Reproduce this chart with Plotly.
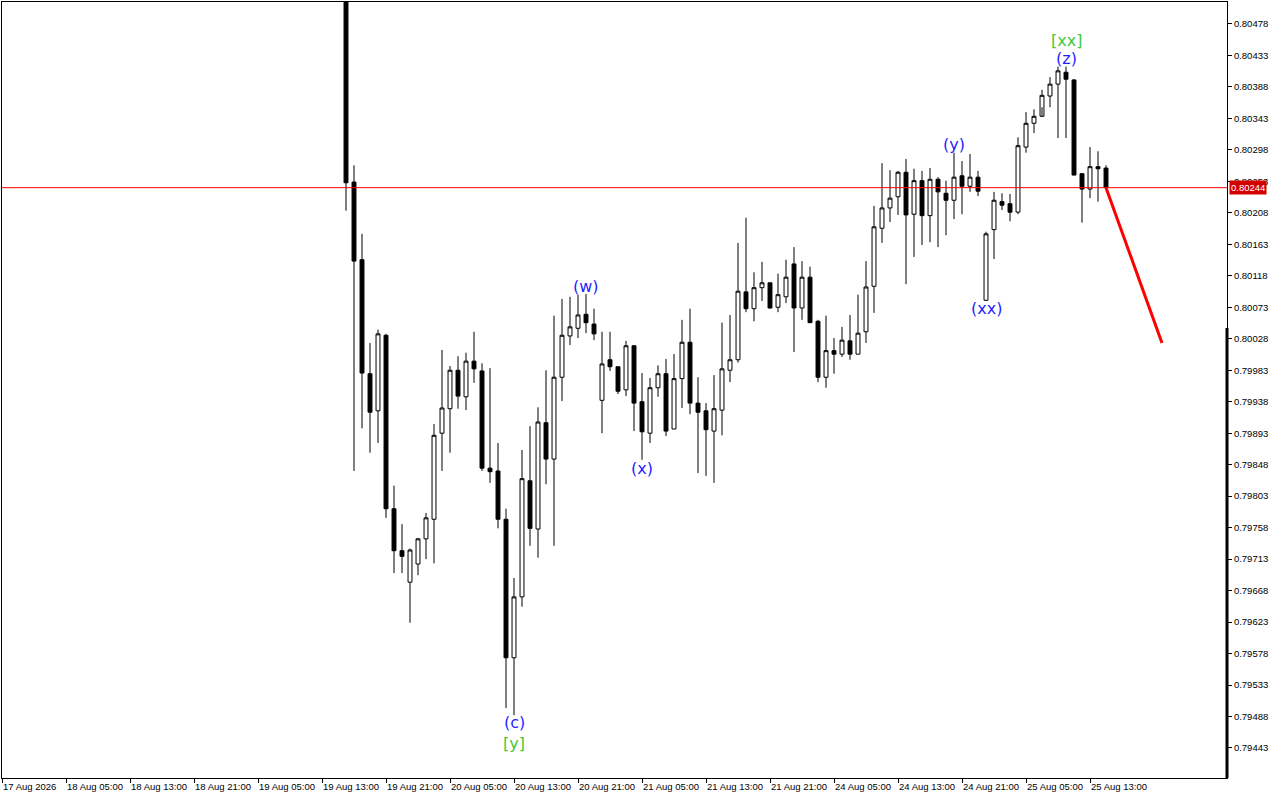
import pandas as pd
import plotly.graph_objects as go

# ---------------- data ----------------
opens = [0.80700, 0.80252, 0.80141, 0.79978, 0.79925, 0.80033, 0.79785, 0.79725, 0.79680, 0.79706,
         0.79742, 0.79770, 0.79893, 0.79928, 0.79983, 0.79945, 0.79996, 0.79982, 0.79843, 0.79839,
         0.79770, 0.79572, 0.79659, 0.79825, 0.79756, 0.79908, 0.79856, 0.79973, 0.80032, 0.80043,
         0.80063, 0.80049, 0.79940, 0.79998, 0.79988, 0.79955, 0.80018, 0.79938, 0.79893, 0.79958,
         0.79978, 0.79899, 0.79971, 0.80023, 0.79936, 0.79925, 0.79896, 0.79926, 0.79983, 0.79998,
         0.80095, 0.80071, 0.80101, 0.80108, 0.80073, 0.80088, 0.80135, 0.80072, 0.80116, 0.80053,
         0.79973, 0.80011, 0.80006, 0.80025, 0.80006, 0.80038, 0.80103, 0.80186, 0.80215, 0.80231,
         0.80266, 0.80206, 0.80254, 0.80204, 0.80256, 0.80236, 0.80226, 0.80261, 0.80246, 0.80259,
         0.80083, 0.80184, 0.80224, 0.80221, 0.80209, 0.80302, 0.80336, 0.80346, 0.80375, 0.80392,
         0.80409, 0.80398, 0.80264, 0.80242, 0.80274, 0.80272]
highs = [0.80720, 0.80276, 0.80178, 0.80022, 0.80041, 0.80035, 0.79818, 0.79763, 0.79728, 0.79743,
         0.79779, 0.79906, 0.80012, 0.79989, 0.80003, 0.80008, 0.80038, 0.79993, 0.79986, 0.79879,
         0.79785, 0.79686, 0.79869, 0.79903, 0.79930, 0.79983, 0.80061, 0.80085, 0.80088, 0.80091,
         0.80092, 0.80071, 0.80038, 0.80038, 0.79988, 0.80025, 0.80018, 0.79979, 0.79972, 0.79990,
         0.79999, 0.80006, 0.80055, 0.80071, 0.79973, 0.79936, 0.79976, 0.80051, 0.80062, 0.80165,
         0.80201, 0.80123, 0.80138, 0.80108, 0.80121, 0.80141, 0.80159, 0.80139, 0.80131, 0.80055,
         0.80061, 0.80029, 0.80045, 0.80062, 0.80091, 0.80139, 0.80218, 0.80279, 0.80269, 0.80268,
         0.80285, 0.80271, 0.80268, 0.80272, 0.80259, 0.80254, 0.80294, 0.80282, 0.80292, 0.80268,
         0.80181, 0.80238, 0.80236, 0.80235, 0.80316, 0.80352, 0.80356, 0.80384, 0.80402, 0.80417,
         0.80417, 0.80399, 0.80264, 0.80302, 0.80296, 0.80276]
lows = [0.80211, 0.79839, 0.79900, 0.79865, 0.79879, 0.79772, 0.79693, 0.79693, 0.79622, 0.79690,
        0.79713, 0.79707, 0.79839, 0.79865, 0.79928, 0.79926, 0.79965, 0.79839, 0.79822, 0.79757,
        0.79500, 0.79490, 0.79645, 0.79732, 0.79715, 0.79820, 0.79732, 0.79939, 0.80019, 0.80029,
        0.80036, 0.80026, 0.79893, 0.79982, 0.79949, 0.79946, 0.79896, 0.79855, 0.79879, 0.79945,
        0.79889, 0.79899, 0.79929, 0.79920, 0.79836, 0.79832, 0.79822, 0.79890, 0.79966, 0.79994,
        0.80066, 0.80053, 0.80082, 0.80071, 0.80066, 0.80079, 0.80009, 0.80055, 0.80051, 0.79966,
        0.79958, 0.79978, 0.80002, 0.79998, 0.80006, 0.80022, 0.80065, 0.80165, 0.80195, 0.80205,
        0.80106, 0.80145, 0.80162, 0.80166, 0.80159, 0.80176, 0.80199, 0.80206, 0.80238, 0.80232,
        0.80082, 0.80142, 0.80212, 0.80196, 0.80206, 0.80294, 0.80322, 0.80359, 0.80359, 0.80315,
        0.80315, 0.80262, 0.80194, 0.80229, 0.80224, 0.80244]
closes = [0.80251, 0.80139, 0.79979, 0.79923, 0.80035, 0.79785, 0.79725, 0.79717, 0.79726, 0.79742,
          0.79772, 0.79890, 0.79929, 0.79983, 0.79946, 0.79996, 0.79985, 0.79843, 0.79838, 0.79770,
          0.79572, 0.79659, 0.79828, 0.79757, 0.79909, 0.79856, 0.79973, 0.80033, 0.80045, 0.80062,
          0.80051, 0.80035, 0.79992, 0.79988, 0.79953, 0.80018, 0.79936, 0.79895, 0.79958, 0.79978,
          0.79896, 0.79971, 0.80023, 0.79936, 0.79923, 0.79898, 0.79928, 0.79985, 0.79998, 0.80096,
          0.80071, 0.80101, 0.80108, 0.80072, 0.80091, 0.80116, 0.80072, 0.80116, 0.80051, 0.79973,
          0.80011, 0.80006, 0.80026, 0.80006, 0.80036, 0.80102, 0.80188, 0.80215, 0.80229, 0.80266,
          0.80205, 0.80254, 0.80204, 0.80256, 0.80238, 0.80226, 0.80259, 0.80246, 0.80259, 0.80239,
          0.80178, 0.80226, 0.80219, 0.80209, 0.80304, 0.80336, 0.80346, 0.80376, 0.80392, 0.80411,
          0.80399, 0.80262, 0.80242, 0.80274, 0.80271, 0.80244]

first_bar = "2026-08-19 16:00"
last_bar = "2026-08-25 15:00"

current_price = 0.80244
projection_time = "2026-08-25 22:00"
projection_price = 0.80022

wave_labels = [
    # (text, time, price, colour)
    ("(c)", "2026-08-20 13:00", 0.79479, "#1f1fff"),
    ("[y]", "2026-08-20 13:00", 0.79450, "#3ec83e"),
    ("(w)", "2026-08-20 22:00", 0.80103, "#1f1fff"),
    ("(x)", "2026-08-21 05:00", 0.79843, "#1f1fff"),
    ("(y)", "2026-08-24 20:00", 0.80305, "#1f1fff"),
    ("(xx)", "2026-08-25 00:00", 0.80071, "#1f1fff"),
    ("(z)", "2026-08-25 10:00", 0.80428, "#1f1fff"),
    ("[xx]", "2026-08-25 10:00", 0.80455, "#3ec83e"),
]

x_tick_times = ["2026-08-17 21:00", "2026-08-18 05:00", "2026-08-18 13:00", "2026-08-18 21:00",
                "2026-08-19 05:00", "2026-08-19 13:00", "2026-08-19 21:00", "2026-08-20 05:00",
                "2026-08-20 13:00", "2026-08-20 21:00", "2026-08-21 05:00", "2026-08-21 13:00",
                "2026-08-21 21:00", "2026-08-24 05:00", "2026-08-24 13:00", "2026-08-24 21:00",
                "2026-08-25 05:00", "2026-08-25 13:00"]
x_tick_labels = ["17 Aug 2026", "18 Aug 05:00", "18 Aug 13:00", "18 Aug 21:00", "19 Aug 05:00",
                 "19 Aug 13:00", "19 Aug 21:00", "20 Aug 05:00", "20 Aug 13:00", "20 Aug 21:00",
                 "21 Aug 05:00", "21 Aug 13:00", "21 Aug 21:00", "24 Aug 05:00", "24 Aug 13:00",
                 "24 Aug 21:00", "25 Aug 05:00", "25 Aug 13:00"]

y_tick_values = [0.79443, 0.79488, 0.79533, 0.79578, 0.79623, 0.79668, 0.79713, 0.79758,
                 0.79803, 0.79848, 0.79893, 0.79938, 0.79983, 0.80028, 0.80073, 0.80118,
                 0.80163, 0.80208, 0.80253, 0.80298, 0.80343, 0.80388, 0.80433, 0.80478]

# ---------------- figure ----------------
hours = pd.date_range(first_bar, last_bar, freq="h")
times = hours[hours.dayofweek < 5]

fig = go.Figure()
fig.add_trace(go.Candlestick(
    x=times, open=opens, high=highs, low=lows, close=closes,
    increasing=dict(fillcolor="white", line=dict(color="black", width=1)),
    decreasing=dict(fillcolor="black", line=dict(color="black", width=1)),
    whiskerwidth=0, showlegend=False, name="EURCHF"))

fig.add_trace(go.Scatter(
    x=[times[-1], pd.Timestamp(projection_time)], y=[closes[-1], projection_price],
    mode="lines", line=dict(color="#ff0000", width=3), showlegend=False, hoverinfo="skip"))

fig.add_shape(type="line", xref="paper", x0=0, x1=1, yref="y", y0=current_price, y1=current_price,
              line=dict(color="#ff0000", width=1), layer="above")
# thick part of right border
fig.add_shape(type="line", xref="paper", x0=1.0, x1=1.0, yref="paper", y0=0, y1=0.58,
              line=dict(color="black", width=3), layer="above")

for text, t, p, col in wave_labels:
    fig.add_annotation(x=pd.Timestamp(t), y=p, text=text, showarrow=False,
                       font=dict(family="DejaVu Sans", size=16, color=col))

fig.add_annotation(xref="paper", x=1.0, xanchor="left", xshift=2, y=current_price, yref="y",
                   text="%.5f" % current_price, showarrow=False, bgcolor="#d40000",
                   font=dict(family="Liberation Sans", size=9.5, color="white"),
                   borderpad=1)

font = dict(family="Liberation Sans", size=9.5, color="black")
fig.update_layout(
    width=1280, height=800,
    margin=dict(l=2, r=53, t=2, b=22, autoexpand=False),
    paper_bgcolor="white", plot_bgcolor="white",
    font=font, showlegend=False, hovermode=False,
    xaxis=dict(
        type="date",
        range=["2026-08-17 21:00", "2026-08-26 06:07:30"],
        rangebreaks=[dict(bounds=["sat", "mon"])],
        rangeslider=dict(visible=False),
        tickmode="array", tickvals=x_tick_times, ticktext=x_tick_labels,
        ticklabelposition="outside right", tickangle=0, automargin=False,
        ticks="outside", ticklen=4, tickcolor="black",
        showgrid=False, zeroline=False,
        showline=True, linecolor="black", linewidth=1, mirror=True,
        tickfont=font,
    ),
    yaxis=dict(
        side="right", automargin=False,
        range=[0.794001, 0.805094],
        tickmode="array", tickvals=y_tick_values,
        ticktext=["%.5f" % v for v in y_tick_values],
        ticks="outside", ticklen=4, tickcolor="black",
        showgrid=False, zeroline=False,
        showline=True, linecolor="black", linewidth=1, mirror=True,
        tickfont=font,
    ),
)

fig.write_html("out.html", config={"displayModeBar": False},
               post_script="document.body.style.margin='0px';document.body.style.overflow='hidden';")
